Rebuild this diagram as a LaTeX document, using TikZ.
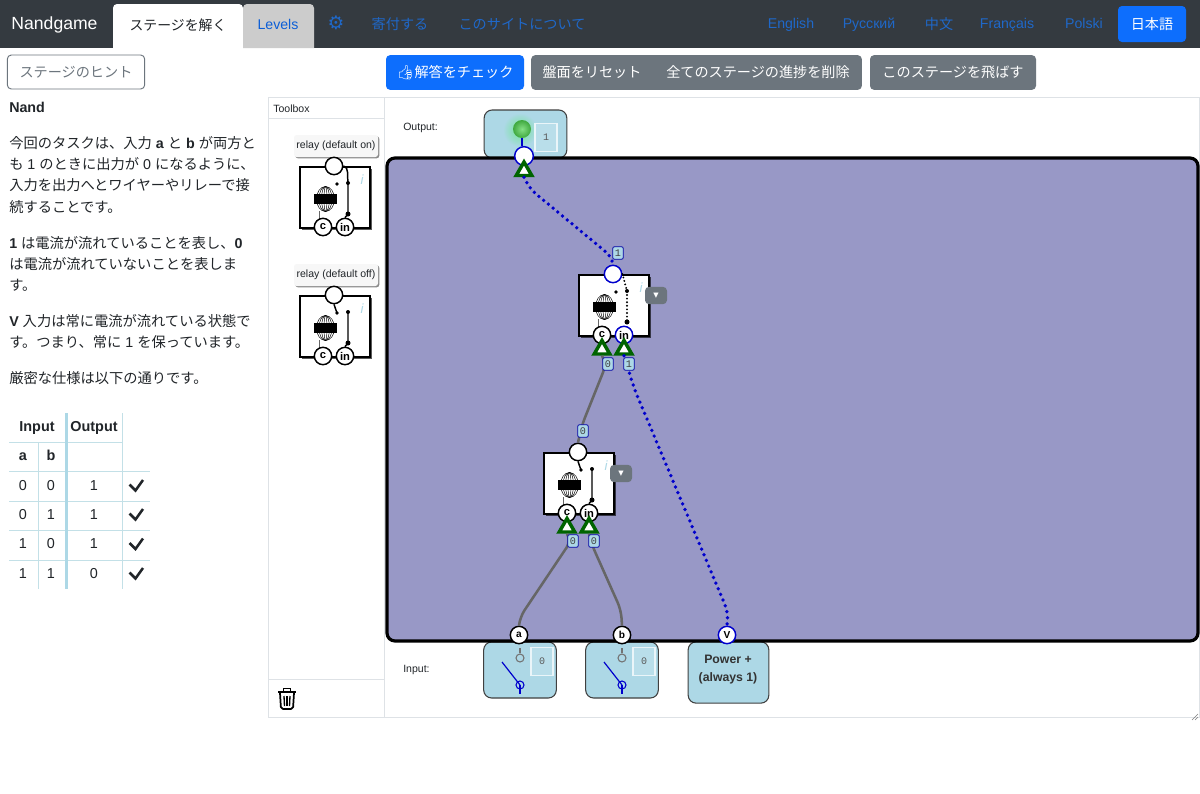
\documentclass[tikz,border=0pt]{standalone}
\usepackage{fontspec}
\setmainfont{Liberation Sans}
\setmonofont{Liberation Mono}
\newfontfamily\cjk{Noto Sans CJK JP}
\newfontfamily\dejavu{DejaVu Sans}
\newfontfamily\emoji{Noto Emoji}
\usetikzlibrary{positioning, shapes.geometric, shadows}
\newcommand{\ja}[1]{{\cjk #1}}
\definecolor{navdark}{HTML}{343A40}
\definecolor{linkblue}{HTML}{0D6EFD}
\definecolor{navlink}{HTML}{1F68C9}
\definecolor{btngray}{HTML}{6C757D}
\definecolor{txtdark}{HTML}{212529}
\definecolor{boardpurple}{HTML}{9898C6}
\definecolor{paleblue}{HTML}{ADD8E6}
\definecolor{tableline}{HTML}{C3E0E7}
\definecolor{panelline}{HTML}{DEE2E6}
\definecolor{wireblue}{HTML}{0000CC}
\definecolor{wiregray}{HTML}{666666}
\definecolor{triangreen}{HTML}{006400}
\definecolor{ledlight}{HTML}{85E085}
\definecolor{leddark}{HTML}{3FA83F}
\tikzset{
    navtxt/.style={inner sep=0, text=navlink, text height=8pt, text depth=2pt, font=\fontsize{10.6}{13}\selectfont},
    ptxt/.style={anchor=west, inner sep=0, text=txtdark, text height=8pt, text depth=2pt, yshift=-1.2pt, font=\fontsize{10.7}{13}\selectfont},
    tabletxt/.style={inner sep=0, text=txtdark, text height=8pt, text depth=2pt, font=\fontsize{10.8}{13}\selectfont},
    tablebold/.style={inner sep=0, text=txtdark, text height=8pt, text depth=2pt, font=\fontsize{10.8}{13}\selectfont\bfseries},
    tablecheck/.style={txtdark, line width=1.9pt},
    btn/.style={fill=btngray, rounded corners=3pt, minimum height=26pt, inner sep=0, text=white, font=\fontsize{10.6}{13}\selectfont},
    btntxt/.style={inner sep=0, text=white, font=\fontsize{10.6}{13}\selectfont},
    smalltxt/.style={anchor=west, inner sep=0, text=txtdark, font=\fontsize{7.9}{10}\selectfont},
    iobox/.style={draw=black!75, line width=0.8pt, fill=paleblue, rounded corners=6pt, inner sep=0},
    powertxt/.style={inner sep=0, align=center, text=black!80, font=\fontsize{9.2}{14}\selectfont\bfseries},
    valbox/.style={draw=white!75!paleblue, line width=0.8pt, fill=paleblue!85!white, minimum width=16.5pt, minimum height=21.5pt, inner sep=0, text=black!65, font=\ttfamily\fontsize{7.5}{9}\selectfont},
    conn/.style={circle, draw=black, fill=white, line width=1.1pt, minimum size=13pt, inner sep=0, text=black, font=\fontsize{8.4}{10}\selectfont\bfseries},
    connon/.style={conn, draw=wireblue},
    pinconn/.style={circle, draw=black, fill=white, line width=1.1pt, minimum size=13pt, inner sep=0, text=black, font=\fontsize{7.6}{9}\selectfont\bfseries},
    tri/.style={regular polygon, regular polygon sides=3, draw=triangreen, fill=white, line width=2.6pt, minimum size=13.5pt, inner sep=0},
    wlabel/.style={draw=wireblue!80!black, fill=paleblue, rounded corners=1.5pt, line width=0.6pt, minimum width=8pt, minimum height=9.5pt, inner sep=0, text=black!75, font=\ttfamily\fontsize{7.6}{8}\selectfont},
    menubtn/.style={btn, minimum width=16.5pt, minimum height=13pt, font=\dejavu\fontsize{8}{9}\selectfont},
    wireon/.style={wireblue, line width=2.8pt, line cap=round, dash pattern=on 0pt off 4.6pt, rounded corners=6pt},
    wireoff/.style={wiregray, line width=1.9pt, rounded corners=6pt},
    arm/.style={black, line width=1.1pt},
    armdots/.style={black, line width=1.6pt, line cap=round, dash pattern=on 0pt off 2.7pt},
    relaycore/.pic={
        \node [draw=black, fill=white, line width=1.3pt, minimum width=52.5pt, minimum height=45.5pt, inner sep=0, drop shadow={shadow xshift=1.6pt, shadow yshift=-1.6pt, opacity=0.65, fill=black}] at (35,30.5) {};
        \draw [black, line width=0.35pt] (25.5,32) ellipse [x radius=9, y radius=12.5];
        \draw [black, line width=0.35pt] (25.5,32) ellipse [x radius=6.5, y radius=12.5];
        \draw [black, line width=0.35pt] (25.5,32) ellipse [x radius=4, y radius=12.5];
        \draw [black, line width=0.35pt] (25.5,32) ellipse [x radius=1.5, y radius=12.5];
        \fill [black] (14,27) rectangle (37,37);
        \draw [black!60, line width=0.5pt] (19,44) -- (19,55);
        \fill [black] (37,17) circle (1.9);
        \coordinate (-pole) at (37,17);
        \coordinate (-upper) at (48,16);
        \coordinate (-lower) at (48,47);
        \fill [black] (-upper) circle (2);
        \fill [black] (-lower) circle (2.5);
        \node [inner sep=0, text=paleblue, font=\fontsize{10}{12}\selectfont\itshape] at (62,13) {i};
    }
}

\begin{document}
\begin{tikzpicture}[x=0.75pt, y=-0.75pt]
        \useasboundingbox (0,0) rectangle (1200,793);
        \fill [white] (0,0) rectangle (1200,793);

        % top bar
        \fill [navdark] (0,0) rectangle (1200,48);
        \fill [white, rounded corners=3pt] (113,48) -- (113,4) -- (243,4) [sharp corners] -- (243,48) -- cycle;
        \fill [black!20, rounded corners=3pt] (243,48) -- (243,4) -- (314,4) [sharp corners] -- (314,48) -- cycle;
        \node [inner sep=0, text=white, text height=10pt, text depth=3pt, font=\fontsize{13.2}{15}\selectfont] (brand) at (54.5,24.5) {Nandgame};
        \node [inner sep=0, text=txtdark, font=\fontsize{10.4}{13}\selectfont] (tabsolve) at (178,25) {\ja{ステージを解く}};
        \node [navtxt, text=linkblue!85!black] (tablevels) at (278,25) {Levels};
        \node [navtxt, font=\dejavu\fontsize{14}{15}\selectfont] (gearicon) at (336,25) {⚙};
        \node [navtxt] (navdonate) at (400,25) {\ja{寄付する}};
        \node [navtxt] (navabout) at (522,25) {\ja{このサイトについて}};
        \node [navtxt] (langen) at (791,24) {English};
        \node [navtxt] (langru) at (869,24) {Русский};
        \node [navtxt] (langzh) at (939,25) {\ja{中文}};
        \node [navtxt] (langfr) at (1007,24) {Français};
        \node [navtxt] (langpl) at (1084,24) {Polski};
        \node [btn, fill=linkblue, minimum width=51pt, minimum height=27pt] (langja) at (1152,24) {\ja{日本語}};

        % buttons
        \node [btn, fill=white, draw=btngray, line width=0.7pt, text=btngray, minimum width=103pt, minimum height=25.5pt] (hintbtn) at (76,72) {\ja{ステージのヒント}};
        \node [btn, fill=linkblue, minimum width=103.5pt] (checkbtn) at (455,72.5) {{\emoji 👍}\ja{解答をチェック}};
        \node [btn, minimum width=248pt] (resetbar) at (696.5,72.5) {};
        \node [btntxt] (resetbtn) at (592,72) {\ja{盤面をリセット}};
        \node [btntxt] (wipebtn) at (758,72) {\ja{全てのステージの進捗を削除}};
        \node [btn, minimum width=124.5pt] (skipbtn) at (953,72.5) {\ja{このステージを飛ばす}};

        % left text
        \node [ptxt] (title) at (9,107) {\textbf{Nand}};
        \node [ptxt] (p1a) at (9,143) {\ja{今回のタスクは、入力} \textbf{a} \ja{と} \textbf{b} \ja{が両方と}};
        \node [ptxt] (p1b) at (9,164) {\ja{も} 1 \ja{のときに出力が} 0 \ja{になるように、}};
        \node [ptxt] (p1c) at (9,185) {\ja{入力を出力へとワイヤーやリレーで接}};
        \node [ptxt] (p1d) at (9,207) {\ja{続することです。}};
        \node [ptxt] (p2a) at (9,243) {\textbf{1} \ja{は電流が流れていることを表し、}\textbf{0}};
        \node [ptxt] (p2b) at (9,264) {\ja{は電流が流れていないことを表しま}};
        \node [ptxt] (p2c) at (9,285) {\ja{す。}};
        \node [ptxt] (p3a) at (9,321) {\textbf{V} \ja{入力は常に電流が流れている状態で}};
        \node [ptxt] (p3b) at (9,342) {\ja{す。つまり、常に} 1 \ja{を保っています。}};
        \node [ptxt] (p4) at (9,378) {\ja{厳密な仕様は以下の通りです。}};

        % truth table
        \draw [tableline, line width=0.7pt] (9,442) -- (122,442);
        \draw [tableline, line width=0.7pt] (9,471) -- (150,471);
        \draw [tableline, line width=0.7pt] (9,501) -- (150,501);
        \draw [tableline, line width=0.7pt] (9,530) -- (150,530);
        \draw [tableline, line width=0.7pt] (9,560) -- (150,560);
        \draw [tableline, line width=0.7pt] (38,442) -- (38,589);
        \draw [tableline, line width=0.7pt] (122,413) -- (122,589);
        \draw [paleblue, line width=2.2pt] (66.5,413) -- (66.5,589);

        \node [tablebold] (thinput) at (37,427) {Input};
        \node [tablebold] (thoutput) at (94,427) {Output};
        \node [tablebold] (tha) at (23,456) {a};
        \node [tablebold] (thb) at (51,456) {b};

        \node [tabletxt] (ca1) at (23,486) {0};
        \node [tabletxt] (cb1) at (51,486) {0};
        \node [tabletxt] (cy1) at (94,486) {1};
        \draw [tablecheck] (129.5,484.5) -- (135.5,490.5) -- (143,480);

        \node [tabletxt] (ca2) at (23,515) {0};
        \node [tabletxt] (cb2) at (51,515) {1};
        \node [tabletxt] (cy2) at (94,515) {1};
        \draw [tablecheck] (129.5,513.5) -- (135.5,519.5) -- (143,509);

        \node [tabletxt] (ca3) at (23,544) {1};
        \node [tabletxt] (cb3) at (51,544) {0};
        \node [tabletxt] (cy3) at (94,544) {1};
        \draw [tablecheck] (129.5,543) -- (135.5,549) -- (143,538.5);

        \node [tabletxt] (ca4) at (23,574) {1};
        \node [tabletxt] (cb4) at (51,574) {1};
        \node [tabletxt] (cy4) at (94,574) {0};
        \draw [tablecheck] (129.5,572.5) -- (135.5,578.5) -- (143,568);

        % panels
        \draw [panelline, line width=0.7pt] (268,97) rectangle (1199,717);
        \draw [panelline, line width=0.7pt] (384,97) -- (384,717);
        \draw [panelline, line width=0.7pt] (268,118) -- (384,118);
        \draw [panelline, line width=0.7pt] (268,679) -- (384,679);
        \draw [black!50, line width=0.4pt] (1192,720) -- (1198,714);
        \draw [black!50, line width=0.4pt] (1195,720) -- (1198,717);
        \node [smalltxt] (toolboxlbl) at (273,109) {Toolbox};
        \node [smalltxt] (outputlbl) at (403,128) {Output:};
        \node [smalltxt] (inputlbl) at (403,670) {Input:};

        % trash can
        \draw [black, line width=1.3pt, rounded corners=1.5pt] (280,693) -- (281,709) -- (293,709) -- (294,693);
        \draw [black, line width=1.3pt] (278,692) -- (296,692);
        \draw [black, line width=1.3pt] (283.5,691) -- (283.5,688.5) -- (290.5,688.5) -- (290.5,691);
        \draw [black, line width=1pt] (284,696) -- (284.5,706);
        \draw [black, line width=1pt] (287,696) -- (287,706);
        \draw [black, line width=1pt] (290,696) -- (289.5,706);

        % toolbox relays
        \node [fill=black!3, rounded corners=2pt, minimum width=63pt, minimum height=16.5pt, inner sep=0, text=txtdark, font=\fontsize{7.9}{10}\selectfont, drop shadow={shadow xshift=1pt, shadow yshift=-1pt, opacity=0.45, fill=black}] (t1lbl) at (336,146) {relay (default on)};
        \pic (t1) at (300,167) {relaycore};
        \node [conn] (t1top) at (334,166) {};
        \node [conn] (t1c) at (323,227) {c};
        \node [conn] (t1in) at (345,227) {in};
        \draw [arm] (t1top.east) to [out=-20, in=100] (t1-upper);
        \draw [arm] (t1-upper) -- (t1-lower) -- (t1in.north);

        \node [fill=black!3, rounded corners=2pt, minimum width=63pt, minimum height=16.5pt, inner sep=0, text=txtdark, font=\fontsize{7.9}{10}\selectfont, drop shadow={shadow xshift=1pt, shadow yshift=-1pt, opacity=0.45, fill=black}] (t2lbl) at (336,275) {relay (default off)};
        \pic (t2) at (300,296) {relaycore};
        \node [conn] (t2top) at (334,295) {};
        \node [conn] (t2c) at (323,356) {c};
        \node [conn] (t2in) at (345,356) {in};
        \draw [arm] (t2top.south) -- (t2-pole);
        \draw [arm] (t2-upper) -- (t2-lower) -- (t2in.north);

        % input and output boxes
        \node [iobox, minimum width=62pt, minimum height=36pt] (outbox) at (525.5,134) {};
        \shade [inner color=green!35!paleblue, outer color=paleblue] (520,130) circle (17);
        \node [iobox, minimum width=54.5pt, minimum height=42pt] (abox) at (520,670) {};
        \node [iobox, minimum width=54.5pt, minimum height=42pt] (bbox) at (622,670) {};
        \node [iobox, minimum width=60.5pt, minimum height=46pt] (powerbox) at (728.5,672.5) {};
        \node [powertxt] (powerlbl) at (728,669.5) {Power +\\(always 1)};
        \node [valbox] (outval) at (546,137.5) {1};
        \node [valbox] (aval) at (542,661.5) {0};
        \node [valbox] (bval) at (644,661.5) {0};

        % board
        \draw [black, line width=2.4pt, fill=boardpurple, rounded corners=6pt] (387,158) rectangle (1198,641);

        % relays on the board
        \pic (r1) at (579,275) {relaycore};
        \node [connon] (r1top) at (613,274) {};
        \node [conn] (r1c) at (602,335) {c};
        \node [connon] (r1in) at (624,335) {in};
        \draw [armdots] (r1top.east) -- (r1-upper) -- (r1-lower);
        \node [tri] (r1ctri) at (602,349.5) {};
        \node [tri] (r1intri) at (624,349.5) {};
        \node [menubtn] (r1menu) at (656,295.5) {▾};

        \pic (r2) at (544,453) {relaycore};
        \node [conn] (r2top) at (578,452) {};
        \node [conn] (r2c) at (567,513) {c};
        \node [conn] (r2in) at (589,513) {in};
        \draw [arm] (r2top.south) -- (r2-pole);
        \draw [arm] (r2-upper) -- (r2-lower) -- (r2in.north);
        \node [tri] (r2ctri) at (567,527.5) {};
        \node [tri] (r2intri) at (589,527.5) {};
        \node [menubtn] (r2menu) at (621,473.5) {▾};

        % pins
        \node [circle, shading=radial, inner color=ledlight, outer color=leddark, minimum size=13.5pt, inner sep=0] (led) at (522,129) {};
        \node [connon, minimum size=14pt] (outpin) at (524,156) {};
        \node [tri] (outtri) at (524,171) {};
        \draw [wireblue, line width=2pt] (led.south) -- (outpin.north -| led.south);
        \node [pinconn] (apin) at (519,635) {a};
        \node [pinconn] (bpin) at (622,635) {b};
        \node [pinconn, draw=wireblue] (vpin) at (727,635) {V};

        % wires
        \draw [wireon] (outtri.south) -- (530,189) -- (612,257) -- (r1top.north);
        \draw [wireon] (r1intri.south) -- (634,388) -- (728,612) -- (vpin.north);
        \draw [wireoff] (r1ctri.south) -- (606,365) -- (582,425) -- (r2top.north);
        \draw [wireoff] (r2ctri.south) -- (571,541) -- (520,617) -- (apin.north);
        \draw [wireoff] (r2intri.south) -- (592,545) -- (621,610) -- (bpin.north);

        % wire values
        \node [wlabel] (w1) at (618,253) {1};
        \node [wlabel] (w2) at (608,364) {0};
        \node [wlabel] (w3) at (629,364) {1};
        \node [wlabel] (w4) at (583,431) {0};
        \node [wlabel] (w5) at (573,541) {0};
        \node [wlabel] (w6) at (594,541) {0};

        % switches
        \node [circle, draw=black!55, line width=0.8pt, minimum size=6pt, inner sep=0] (acontact) at (520,658) {};
        \node [circle, draw=wireblue, line width=0.8pt, minimum size=6pt, inner sep=0] (ahinge) at (520,685) {};
        \coordinate (atip) at (502,662);
        \draw [black!55, line width=0.8pt] (acontact.north) -- ++(0,-5);
        \draw [wireblue, line width=0.9pt] (atip) -- (ahinge.center);
        \draw [wireblue, line width=0.9pt] (ahinge.center) -- ++(0,9);

        \node [circle, draw=black!55, line width=0.8pt, minimum size=6pt, inner sep=0] (bcontact) at (622,658) {};
        \node [circle, draw=wireblue, line width=0.8pt, minimum size=6pt, inner sep=0] (bhinge) at (622,685) {};
        \coordinate (btip) at (604,662);
        \draw [black!55, line width=0.8pt] (bcontact.north) -- ++(0,-5);
        \draw [wireblue, line width=0.9pt] (btip) -- (bhinge.center);
        \draw [wireblue, line width=0.9pt] (bhinge.center) -- ++(0,9);
    \end{tikzpicture}
\end{document}
